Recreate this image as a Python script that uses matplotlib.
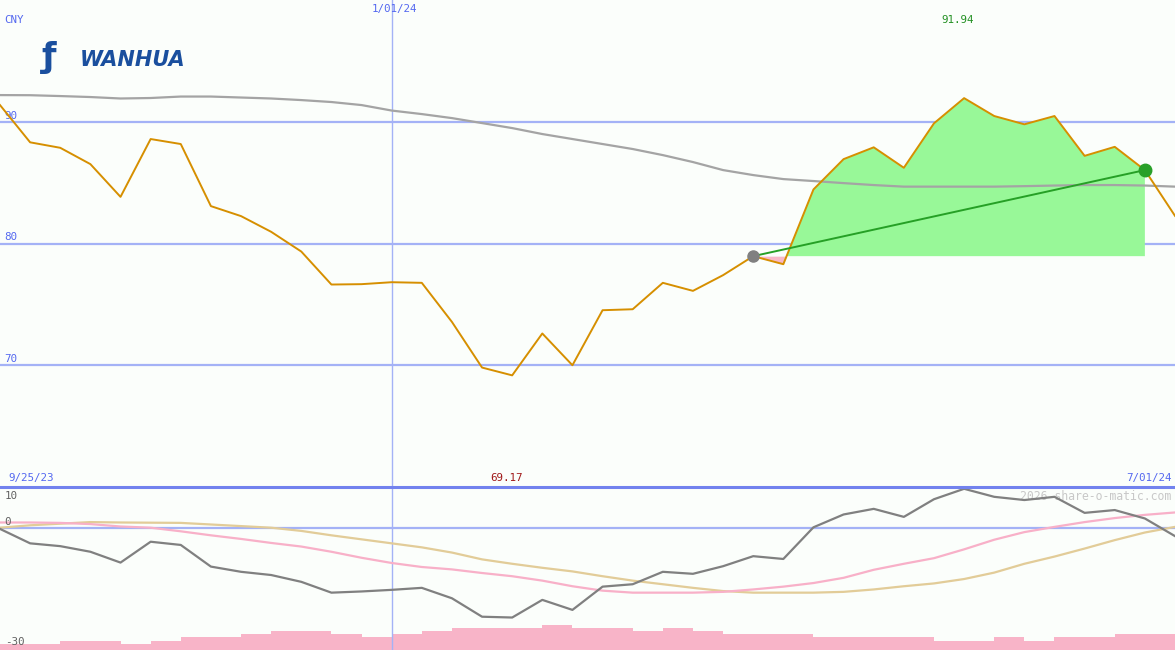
import matplotlib
matplotlib.use("Agg")
import matplotlib.pyplot as plt
import matplotlib.transforms as mtransforms
import numpy as np

# ---------------- data ----------------
price = [91.37, 88.31, 87.86, 86.52, 83.83, 88.58, 88.17, 83.07, 82.25, 80.96,
         79.34, 76.63, 76.66, 76.82, 76.77, 73.56, 69.81, 69.17, 72.61, 70.00,
         74.52, 74.60, 76.77, 76.11, 77.40, 78.96, 78.30, 84.44, 86.93, 87.90,
         86.22, 89.87, 91.94, 90.47, 89.79, 90.47, 87.20, 87.94, 86.03, 82.27]

moving_avg = [92.19, 92.18, 92.11, 92.03, 91.91, 91.95, 92.07, 92.07, 91.99, 91.91,
              91.78, 91.62, 91.37, 90.92, 90.63, 90.30, 89.89, 89.48, 88.99, 88.58,
              88.17, 87.76, 87.26, 86.69, 86.03, 85.62, 85.29, 85.13, 84.96, 84.80,
              84.67, 84.67, 84.67, 84.67, 84.71, 84.76, 84.80, 84.80, 84.76, 84.67]

rel_strength = [-0.3, -3.9, -4.6, -6.0, -8.7, -3.5, -4.3, -9.7, -11.0, -11.8,
                -13.5, -16.2, -15.9, -15.5, -15.0, -17.6, -22.2, -22.4, -18.0, -20.5,
                -14.7, -14.1, -11.0, -11.5, -9.6, -7.1, -7.8, 0.1, 3.3, 4.7,
                2.7, 7.1, 9.7, 7.7, 6.9, 7.7, 3.7, 4.4, 2.3, -2.1]

pink_avg = [1.3, 1.3, 1.2, 0.9, 0.3, 0.0, -0.9, -1.9, -2.8, -3.8,
            -4.7, -6.0, -7.5, -8.8, -9.8, -10.4, -11.3, -12.1, -13.2, -14.6,
            -15.7, -16.2, -16.2, -16.2, -16.0, -15.4, -14.7, -13.8, -12.5, -10.5,
            -9.0, -7.6, -5.4, -3.0, -1.1, 0.2, 1.4, 2.4, 3.2, 3.8]

tan_avg = [0.0, 0.6, 1.0, 1.4, 1.3, 1.25, 1.2, 0.8, 0.4, 0.0,
           -0.8, -1.9, -2.9, -3.9, -4.9, -6.2, -7.9, -9.0, -10.0, -10.9,
           -12.1, -13.2, -14.1, -15.0, -15.8, -16.2, -16.2, -16.2, -16.0, -15.4,
           -14.6, -13.9, -12.8, -11.2, -9.0, -7.2, -5.2, -3.1, -1.2, 0.2]

volume = [2, 2, 3, 3, 2, 3, 4, 4, 5, 6, 6, 5, 4, 5, 6, 7, 7, 7, 8, 7,
          7, 6, 7, 6, 5, 5, 5, 4, 4, 4, 4, 3, 3, 4, 3, 4, 4, 5, 5]

date_labels = ["9/25/23", "1/01/24", "7/01/24"]
year_start_idx = 13
trend_start, trend_end = 25, 38
main_ticks = [90, 80, 70]
lower_ticks = [10, 0, -30]

# ---------------- style ----------------
BG = "#fbfefb"
BLUE_TXT = "#5468f0"
GRID = "#a4b2f6"
SEP = "#7282ee"
ORANGE = "#d68f00"
MONO = "DejaVu Sans Mono"
FS = 7.8

x = np.arange(len(price))
p = np.array(price)

fig = plt.figure(figsize=(11.75, 6.5), dpi=100, facecolor=BG)
H = 650.0
ax = fig.add_axes([0, 163 / H, 1, 487 / H])
ax2 = fig.add_axes([0, 0, 1, 163 / H])
for a in (ax, ax2):
    a.set_facecolor(BG)
    a.set_xlim(0, len(price) - 1)
    a.set_xticks([])
    a.set_yticks([])
    for s in a.spines.values():
        s.set_visible(False)

ax.set_ylim(60, 100)
ax2.set_ylim(-30.5, 10.15)

up2 = mtransforms.ScaledTranslation(0, 1.0 / 100, fig.dpi_scale_trans)

# main grid
ytr = mtransforms.blended_transform_factory(ax.transAxes, ax.transData)
for t in main_ticks:
    ax.axhline(t, color=GRID, lw=1.6, zorder=1)
    ax.text(0.004, t, str(t), transform=ytr + up2,
            fontsize=FS, family=MONO, color=BLUE_TXT, va="bottom", ha="left")
ax.axvline(year_start_idx, color=GRID, lw=1.0, zorder=1)

# trend fill
base = price[trend_start]
xs = x[trend_start:trend_end + 1]
ps = p[trend_start:trend_end + 1]
ax.fill_between(xs, ps, base, where=ps >= base, interpolate=True, color="#98f898", lw=0, zorder=2)
ax.fill_between(xs, ps, base, where=ps < base, interpolate=True, color="#f8b8c8", lw=0, zorder=2)

# moving average
ax.plot(x, moving_avg, color="#a4a4a4", lw=1.6, zorder=2.6)

# price
ax.plot(x, price, color=ORANGE, lw=1.4, zorder=3)

# trend line
ax.plot([trend_start, trend_end], [price[trend_start], price[trend_end]], color="#26a026", lw=1.4, zorder=4)
ax.plot(trend_start, price[trend_start], "o", ms=8, color="#808080", zorder=5)
ax.plot(trend_end, price[trend_end], "o", ms=9, color="#28a028", zorder=5)

# texts main
bt = mtransforms.blended_transform_factory(ax.transData, ax.transAxes)
ax.text(0.004, 1 - 20 / 487, "CNY", transform=ax.transAxes, fontsize=FS, family=MONO, color=BLUE_TXT, va="center", ha="left")
ax.text(year_start_idx + 0.1, 1 - 9 / 487, date_labels[1], transform=bt, fontsize=FS, family=MONO, color=BLUE_TXT, va="center", ha="center")
imax = int(np.argmax(p))
imin = int(np.argmin(p))
ax.text(imax - 0.2, 1 - 20 / 487, f"{p[imax]:.2f}", transform=bt, fontsize=FS, family=MONO, color="#229022", va="center", ha="center")
ax.text(imin - 0.2, 9 / 487, f"{p[imin]:.2f}", transform=bt, fontsize=FS, family=MONO, color="#a01818", va="center", ha="center")
ax.text(0.007, 9 / 487, date_labels[0], transform=ax.transAxes, fontsize=FS, family=MONO, color=BLUE_TXT, va="center", ha="left")
ax.text(0.997, 9 / 487, date_labels[2], transform=ax.transAxes, fontsize=FS, family=MONO, color=BLUE_TXT, va="center", ha="right")

# logo
ax.text(80 / 1175, 1 - 60 / 487, "WANHUA", transform=ax.transAxes, fontsize=15, family="DejaVu Sans",
        weight="bold", style="italic", color="#1a4f9e", va="center", ha="left")
ax.text(42 / 1175, 1 - 58 / 487, "\u0192", transform=ax.transAxes, fontsize=24, family="DejaVu Sans",
        weight="bold", color="#1a4f9e", va="center", ha="left")

# ---------------- lower panel ----------------
axv = ax2.twinx()
axv.set_ylim(0, 52)
axv.set_xlim(0, len(price) - 1)
axv.set_yticks([])
for s in axv.spines.values():
    s.set_visible(False)
axv.bar(np.arange(len(volume)), volume, width=1.0, align="edge", color="#f8b4c8", lw=0, zorder=2)
ax2.set_zorder(axv.get_zorder() + 1)
ax2.patch.set_visible(False)

ax2.axhline(0, color=GRID, lw=1.6, zorder=1)
ax2.axvline(year_start_idx, color=GRID, lw=1.0, zorder=1)
ytr2 = mtransforms.blended_transform_factory(ax2.transAxes, ax2.transData)
down = mtransforms.ScaledTranslation(0, -3.5 / 100, fig.dpi_scale_trans)
top_lim = ax2.get_ylim()[1]
for t in lower_ticks:
    if t >= top_lim - 1:
        ax2.text(0.004, t, str(t), fontsize=FS, family=MONO, color="#606060",
                 va="top", ha="left", transform=ytr2 + down, zorder=6)
    else:
        ax2.text(0.004, t, str(t), fontsize=FS, family=MONO, color="#606060",
                 va="bottom", ha="left", transform=ytr2 + up2, zorder=6)

ax2.plot(x, tan_avg, color="#e2cc98", lw=1.6, zorder=3)
ax2.plot(x, pink_avg, color="#f8b0c8", lw=1.6, zorder=3)
ax2.plot(x, rel_strength, color="#808080", lw=1.6, zorder=4)

ax2.axhline(top_lim, color=SEP, lw=2.2, zorder=5, clip_on=False)
ax2.text(0.997, 1 - 9 / 163, "2026 share-o-matic.com", transform=ax2.transAxes, fontsize=8.3,
         family=MONO, color="#c8c8c8", va="center", ha="right", zorder=2)

fig.savefig("out.png", dpi=100, facecolor=BG)
